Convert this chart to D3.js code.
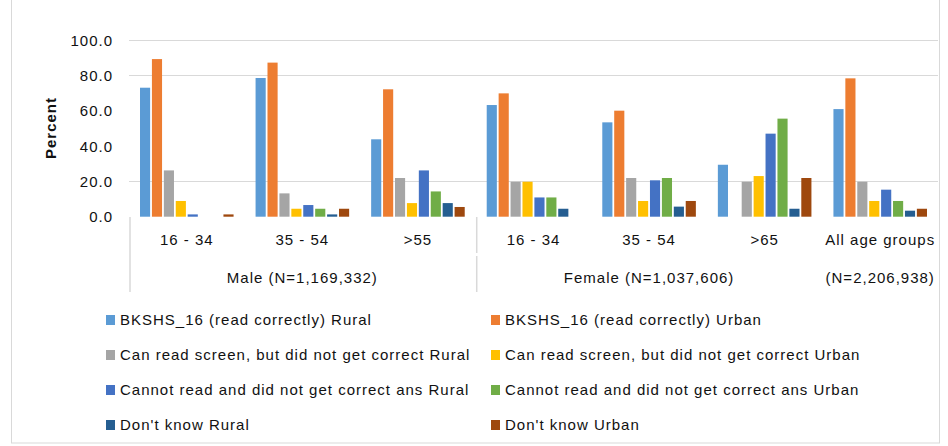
<!DOCTYPE html>
<html><head><meta charset="utf-8">
<script src="https://cdn.jsdelivr.net/npm/d3@7"></script>
<style>
html,body{margin:0;padding:0;background:#fff;}
text{font-family:"Liberation Sans",Arial,sans-serif;fill:#111;letter-spacing:1px;}
</style></head>
<body><svg id="chart" width="948" height="446"></svg>
<script>
const categories = ["16 - 34","35 - 54",">55","16 - 34","35 - 54",">65","All age groups"];
const groupLabels = ["Male (N=1,169,332)","Female (N=1,037,606)","(N=2,206,938)"];
const groupSpans = [[0,3],[3,6],[6,7]];
const seriesNames = [
  "BKSHS_16 (read correctly) Rural",
  "BKSHS_16 (read correctly) Urban",
  "Can read screen, but did not get correct Rural",
  "Can read screen, but did not get correct Urban",
  "Cannot read and did not get correct ans Rural",
  "Cannot read and did not get correct ans Urban",
  "Don't know Rural",
  "Don't know Urban"
];
const colors = ["#5B9BD5","#ED7D31","#A5A5A5","#FFC000","#4472C4","#70AD47","#255E91","#9E480E"];
const readRural    = [73.0, 78.5, 43.8, 63.2, 53.4, 29.4, 60.9];
const readUrban    = [89.2, 87.2, 72.1, 69.8, 60.0, 0,    78.3];
const screenRural  = [26.2, 13.2, 21.9, 19.8, 21.9, 19.8, 19.8];
const screenUrban  = [8.9,  4.5,  7.7,  19.8, 8.9,  23.0, 8.9];
const cannotRural  = [1.3,  6.6,  26.2, 10.9, 20.6, 47.0, 15.3];
const cannotUrban  = [0,    4.5,  14.3, 10.9, 21.9, 55.5, 8.9];
const dkRural      = [0,    1.3,  7.7,  4.5,  5.7,  4.5,  3.4];
const dkUrban      = [1.3,  4.5,  5.5,  0,    8.9,  21.9, 4.5];
const series = [readRural, readUrban, screenRural, screenUrban, cannotRural, cannotUrban, dkRural, dkUrban];
const yTicks = [0,20,40,60,80,100];
const gridTicks = [20,80,100];

const svg = d3.select("#chart");
// outer frame
svg.append("rect").attr("x",11.5).attr("y",-2).attr("width",928).attr("height",445)
  .attr("fill","none").attr("stroke","#d9d9d9");

const x0 = d3.scaleBand().domain(d3.range(categories.length)).range([129,938]).padding(0);
const x1 = d3.scaleBand().domain(d3.range(series.length)).range([11, x0.bandwidth()-11]).paddingInner(0.15);
const y = d3.scaleLinear().domain([0,100]).range([216.7,40]);

// gridlines
svg.append("g").selectAll("line").data(gridTicks).join("line")
  .attr("x1",129).attr("x2",938).attr("y1",d=>Math.round(y(d))+0.5).attr("y2",d=>Math.round(y(d))+0.5)
  .attr("stroke","#d9d9d9").attr("stroke-width",1.2);

// y axis labels
const yAxis = d3.axisLeft(y).tickValues(yTicks).tickFormat(d3.format(".1f")).tickSize(0).tickPadding(0);
const ga = svg.append("g").attr("transform","translate(113,0)").call(yAxis);
ga.select(".domain").remove();
ga.selectAll("text").attr("font-size",15).attr("font-family","Liberation Sans, Arial, sans-serif").attr("fill","#111").attr("dy","0.35em");

svg.append("text").attr("transform","translate(56,128) rotate(-90)").attr("text-anchor","middle")
  .attr("font-size",15).attr("font-weight","bold").text("Percent");

// bars
const g = svg.append("g");
series.forEach((vals,si)=>{
  g.append("g").selectAll("rect").data(vals).join("rect")
    .attr("x",(d,i)=>x0(i)+x1(si))
    .attr("width",x1.bandwidth())
    .attr("y",d=>y(d))
    .attr("height",d=>y(0)-y(d))
    .attr("fill",colors[si]);
});

// category axis lines
const sep = [x0(0), x0(3)];
sep.forEach((sx,i)=>{
  svg.append("line").attr("x1",sx+1).attr("x2",sx+1).attr("y1",217).attr("y2",i===0?292:253).attr("stroke","#d9d9d9").attr("stroke-width",1.5);
  if(i>0) svg.append("line").attr("x1",sx+1).attr("x2",sx+1).attr("y1",256).attr("y2",292).attr("stroke","#d9d9d9").attr("stroke-width",1.5);
});

// category labels
svg.append("g").selectAll("text").data(categories).join("text")
  .attr("x",(d,i)=>x0(i)+x0.bandwidth()/2).attr("y",245).attr("text-anchor","middle")
  .attr("font-size",15).text(d=>d);
svg.append("g").selectAll("text").data(groupLabels).join("text")
  .attr("x",(d,i)=>(x0(groupSpans[i][0])+x0(groupSpans[i][1]-1)+x0.bandwidth())/2).attr("y",283).attr("text-anchor","middle")
  .attr("font-size",15).text(d=>d);

// legend
const leg = svg.append("g");
seriesNames.forEach((name,i)=>{
  const col = i%2, row = Math.floor(i/2);
  const lx = col===0?106:491, ly = 320 + row*35;
  leg.append("rect").attr("x",lx).attr("y",ly-5).attr("width",9).attr("height",10).attr("fill",colors[i]);
  leg.append("text").attr("x",lx+14).attr("y",ly+5).attr("font-size",15).text(name);
});
</script></body></html>
